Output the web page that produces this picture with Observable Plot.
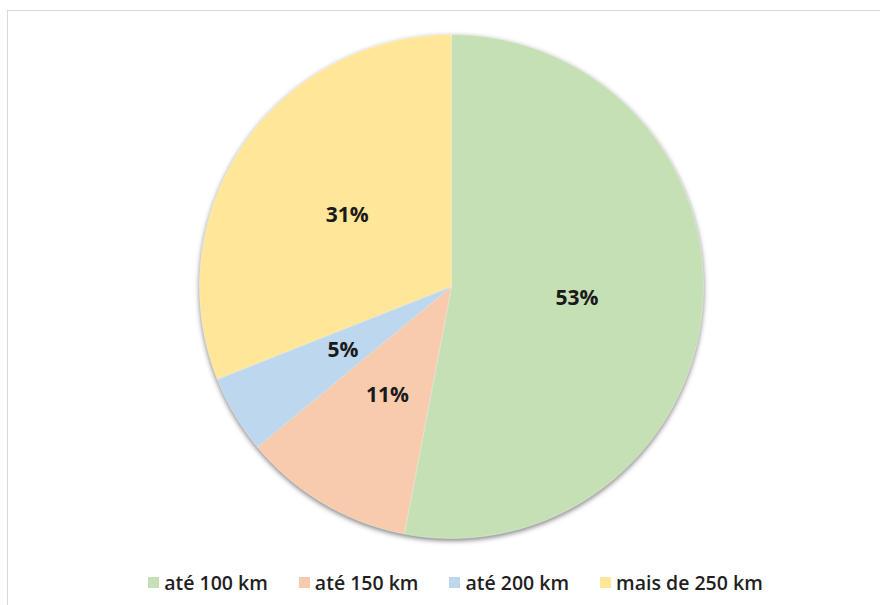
<!DOCTYPE html>
<html>
<head>
<meta charset="utf-8">
<script src="https://cdn.jsdelivr.net/npm/d3@7"></script>
<script src="https://cdn.jsdelivr.net/npm/@observablehq/plot@0.6"></script>
<style>
  html, body { margin: 0; padding: 0; background: #fff; }
  #wrap { position: relative; width: 880px; height: 605px; overflow: hidden; font-family: "Open Sans", sans-serif; }
  #frame { position: absolute; left: 7px; top: 10px; width: 900px; height: 620px; border: 1.5px solid #d9d9d9; box-sizing: border-box; }
  #chart { position: absolute; left: 0; top: 0; }
  #legend { position: absolute; left: 31px; top: 566px; width: 880px; display: flex; justify-content: center; }
  g[aria-label="line"] { filter: drop-shadow(0px 2px 2.5px rgba(0,0,0,0.5)); }
  .lg-swatches { font-family: "Open Sans", sans-serif !important; font-size: 19.5px !important; font-weight: 600; color: #1f1f1f; margin: 0 !important; display: flex; align-items: center; line-height: 28px; }
  .lg-swatch { margin-right: 31px !important; }
  .lg-swatch svg { margin-right: 5px !important; }
</style>
</head>
<body>
<div id="wrap">
  <div id="frame"></div>
  <div id="chart"></div>
  <div id="legend"></div>
</div>
<script>
const categories = ["até 100 km", "até 150 km", "até 200 km", "mais de 250 km"];
const values = [53, 11, 5, 31];
const labels = ["53%", "11%", "5%", "31%"];
const colors = ["#c5e0b4", "#f8cbad", "#bdd7ee", "#ffe699"];

const rows = categories.map((cat, i) => ({cat, value: values[i], label: labels[i]}));
const arcs = d3.pie().sort(null).value(d => d.value)(rows);

// slice outlines (geometry sampled along each arc)
const poly = [];
for (const a of arcs) {
  const cat = a.data.cat;
  poly.push({cat, x: 0, y: 0});
  const n = Math.max(4, Math.ceil((a.endAngle - a.startAngle) / (Math.PI / 360)));
  for (let k = 0; k <= n; k++) {
    const t = a.startAngle + (a.endAngle - a.startAngle) * k / n;
    poly.push({cat, x: Math.sin(t), y: Math.cos(t)});
  }
  poly.push({cat, x: 0, y: 0});
}
const labelPts = arcs.map(a => {
  const m = (a.startAngle + a.endAngle) / 2;
  return {cat: a.data.cat, label: a.data.label, x: 0.5 * Math.sin(m), y: 0.5 * Math.cos(m)};
});

const plot = Plot.plot({
  width: 880,
  height: 560,
  margin: 0,
  x: {domain: [-1, 1], range: [199, 703], axis: null},
  y: {domain: [-1, 1], range: [538, 34], axis: null},
  color: {domain: categories, range: colors},
  style: {background: "transparent"},
  marks: [
    Plot.line(poly, {x: "x", y: "y", z: "cat", fill: "cat", stroke: "#ffffff", strokeWidth: 0.6, strokeOpacity: 0.6, curve: "linear"}),
    Plot.text(labelPts, {x: "x", y: "y", text: "label", fontSize: 21, fontWeight: "bold", fill: "#1a1a1a", fontFamily: "Open Sans"})
  ]
});
document.getElementById("chart").appendChild(plot);
const leg = plot.legend("color", {className: "lg", swatchSize: 11});
document.getElementById("legend").appendChild(leg);
</script>
</body>
</html>
